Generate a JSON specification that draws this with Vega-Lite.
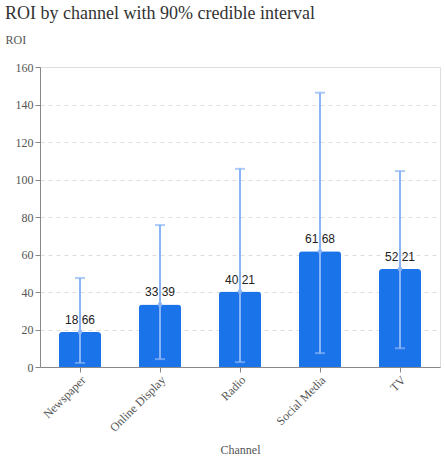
{
  "$schema": "https://vega.github.io/schema/vega-lite/v6.json",
  "autosize": "none",
  "padding": {"left": 40, "top": 67, "right": 5, "bottom": 92},
  "width": 400,
  "height": 300,
  "title": {"text": "ROI by channel with 90% credible interval", "anchor": "start", "dx": 0, "dy": -6, "font": "Liberation Serif", "fontSize": 18, "fontWeight": "normal", "color": "#333"},
  "data": {"values": [
    {"channel": "Newspaper", "roi": 18.66, "lo": 2.2, "hi": 47.5},
    {"channel": "Online Display", "roi": 33.39, "lo": 4.2, "hi": 75.7},
    {"channel": "Radio", "roi": 40.21, "lo": 2.6, "hi": 105.7},
    {"channel": "Social Media", "roi": 61.68, "lo": 7.4, "hi": 146.3},
    {"channel": "TV", "roi": 52.21, "lo": 10.0, "hi": 104.5}
  ]},
  "encoding": {
    "x": {"field": "channel", "type": "nominal", "title": "Channel", "scale": {"paddingInner": 0.475, "paddingOuter": 0.2375},
      "axis": {"labelAngle": -45, "labelFont": "Liberation Serif", "labelFontSize": 12, "labelColor": "#555", "titleFont": "Liberation Serif", "titleFontSize": 12, "titleFontWeight": "normal", "titleColor": "#555", "titleY": 86, "titleBaseline": "alphabetic", "domainColor": "#888", "tickColor": "#888"}}
  },
  "layer": [
    {"mark": {"type": "bar", "color": "#1a73e8", "cornerRadiusTopLeft": 3, "cornerRadiusTopRight": 3},
     "encoding": {"y": {"field": "roi", "type": "quantitative", "title": "ROI", "scale": {"domain": [0, 160]},
       "axis": {"tickCount": 8, "gridDash": [4, 4], "gridColor": "#ddd", "domainColor": "#888", "tickColor": "#888", "labelFont": "Liberation Serif", "labelFontSize": 12, "labelColor": "#555", "titleFont": "Liberation Serif", "titleFontSize": 12, "titleFontWeight": "normal", "titleColor": "#555", "titleAngle": 0, "titleAlign": "left", "titleBaseline": "alphabetic", "titleX": -35, "titleY": -24}}}},
    {"mark": {"type": "text", "font": "Liberation Sans", "fontSize": 12, "color": "#222", "baseline": "alphabetic", "dy": -8},
     "encoding": {"y": {"field": "roi", "type": "quantitative"}, "text": {"field": "roi", "type": "quantitative", "format": ".2f"}}},
    {"mark": {"type": "rule", "color": "#8ab4f8", "strokeWidth": 2},
     "encoding": {"y": {"field": "lo", "type": "quantitative"}, "y2": {"field": "hi"}}},
    {"mark": {"type": "tick", "color": "#8ab4f8", "size": 10, "thickness": 2},
     "encoding": {"y": {"field": "lo", "type": "quantitative"}}},
    {"mark": {"type": "tick", "color": "#8ab4f8", "size": 10, "thickness": 2},
     "encoding": {"y": {"field": "hi", "type": "quantitative"}}},
    {"mark": {"type": "point", "filled": true, "color": "#8ab4f8", "size": 20, "opacity": 1},
     "encoding": {"y": {"field": "roi", "type": "quantitative"}}}
  ],
  "config": {"view": {"stroke": "#ddd"}}
}
